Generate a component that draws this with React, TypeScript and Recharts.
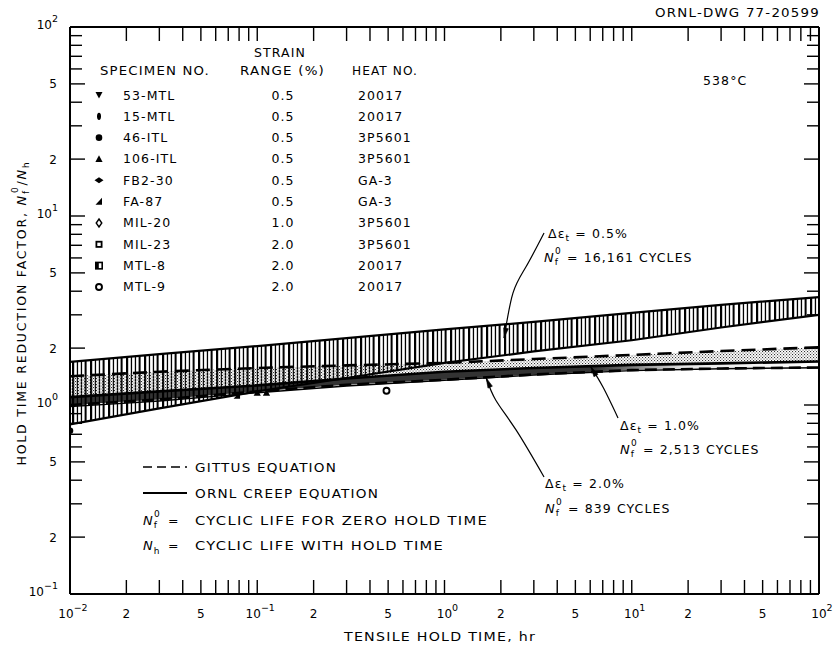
import React from 'react';
import { ComposedChart, XAxis, YAxis, Area, Line, Scatter } from 'recharts';

// ---------------- data ----------------
const holdTimes = [0.01, 0.03, 0.1, 0.3, 1, 3, 10, 30, 100];
// 0.5 % strain band (hatched)
const band05Upper = [1.69, 1.86, 2.05, 2.26, 2.51, 2.75, 3.07, 3.39, 3.72];
const band05Lower = [0.79, 0.96, 1.18, 1.39, 1.67, 1.92, 2.2, 2.57, 3.0];
// 1.0 % strain band (stippled)
const band10Upper = [1.42, 1.5, 1.57, 1.62, 1.67, 1.75, 1.84, 1.93, 2.02];
const band10Lower = [1.1, 1.18, 1.27, 1.38, 1.5, 1.57, 1.63, 1.66, 1.7];
// 2.0 % strain band (dark)
const band20Lower = [1.0, 1.07, 1.18, 1.28, 1.36, 1.45, 1.53, 1.56, 1.58];
const ornl20 = [0.98, 1.05, 1.16, 1.26, 1.35, 1.44, 1.52, 1.555, 1.575];

// visible data points
const pointTimes = [0.01, 0.078, 0.1, 0.112, 0.49];
const pointFactors = [0.73, 1.12, 1.16, 1.16, 1.19];
const pointKinds = ['46-ITL', 'FA-87', '106-ITL', '106-ITL', 'MTL-9'];

// annotation leader lines (data coordinates)
const arrow05Times = [3.4, 2.72, 2.32, 2.08];
const arrow05Factors = [8.13, 5.37, 3.91, 2.26];
const arrow10Times = [8.45, 7.03, 6.05];
const arrow10Factors = [0.853, 1.24, 1.59];
const arrow20Times = [3.4, 2.41, 1.88, 1.67];
const arrow20Factors = [0.416, 0.738, 1.06, 1.39];

// legend table
const specimens = ['53-MTL', '15-MTL', '46-ITL', '106-ITL', 'FB2-30', 'FA-87', 'MIL-20', 'MIL-23', 'MTL-8', 'MTL-9'];
const strainRanges = ['0.5', '0.5', '0.5', '0.5', '0.5', '0.5', '1.0', '2.0', '2.0', '2.0'];
const heatNos = ['20017', '20017', '3P5601', '3P5601', 'GA-3', 'GA-3', '3P5601', '3P5601', '20017', '20017'];

// ticks
const xLabelTicks = [0.01, 0.02, 0.05, 0.1, 0.2, 0.5, 1, 2, 5, 10, 20, 50, 100];
const yLabelTicks = [0.1, 0.2, 0.5, 1, 2, 5, 10, 20, 50, 100];
const mults = [1, 2, 3, 4, 5, 6, 7, 8, 9];
const xMinorTicks = [0.01, 0.1, 1, 10].flatMap((d) => mults.map((m) => +(d * m).toPrecision(3))).concat([100]);
const yMinorTicks = [0.1, 1, 10].flatMap((d) => mults.map((m) => +(d * m).toPrecision(3))).concat([100]);

const rows = holdTimes.map((x, i) => ({
  x,
  r05: [band05Lower[i], band05Upper[i]],
  r10: [band10Lower[i], band10Upper[i]],
  r20: [band20Lower[i], band10Lower[i]],
  u05: band05Upper[i],
  l05: band05Lower[i],
  g10: band10Upper[i],
  o10: band10Lower[i],
  g20: band20Lower[i],
  o20: ornl20[i],
}));
const pointRows = pointTimes.map((x, i) => ({ x, y: pointFactors[i], kind: pointKinds[i] }));
const toRows = (xs: number[], ys: number[]) => xs.map((x, i) => ({ x, y: ys[i] }));
const arrow05Rows = toRows(arrow05Times, arrow05Factors);
const arrow10Rows = toRows(arrow10Times, arrow10Factors);
const arrow20Rows = toRows(arrow20Times, arrow20Factors);

const FONT = '"DejaVu Sans", Verdana, sans-serif';
const TICK_W = 1.4;

// ---------------- helpers ----------------
function Marker({ kind, cx, cy }: { kind: string; cx: number; cy: number }) {
  switch (kind) {
    case '53-MTL':
      return <path d={`M${cx - 3.5},${cy - 3} L${cx + 3.5},${cy - 3} L${cx},${cy + 3.5} Z`} fill="#000" />;
    case '15-MTL':
      return <ellipse cx={cx} cy={cy} rx={2} ry={3.6} fill="#000" />;
    case '46-ITL':
      return <circle cx={cx} cy={cy} r={3.3} fill="#000" />;
    case '106-ITL':
      return <path d={`M${cx},${cy - 3.8} L${cx + 3.6},${cy + 3} L${cx - 3.6},${cy + 3} Z`} fill="#000" />;
    case 'FB2-30':
      return <path d={`M${cx - 4.5},${cy} L${cx},${cy - 3} L${cx + 4.5},${cy} L${cx},${cy + 3} Z`} fill="#000" />;
    case 'FA-87':
      return <path d={`M${cx + 3},${cy - 4} L${cx + 3},${cy + 3} L${cx - 3.5},${cy + 3} Z`} fill="#000" />;
    case 'MIL-20':
      return <path d={`M${cx},${cy - 4} L${cx + 2.8},${cy} L${cx},${cy + 4} L${cx - 2.8},${cy} Z`} fill="#fff" stroke="#000" strokeWidth={1.4} />;
    case 'MIL-23':
      return <rect x={cx - 2.6} y={cy - 2.6} width={5.2} height={5.2} fill="#fff" stroke="#000" strokeWidth={1.8} />;
    case 'MTL-8':
      return (
        <g>
          <rect x={cx - 3.2} y={cy - 3.2} width={6.4} height={6.4} fill="#fff" stroke="#000" strokeWidth={1.6} />
          <rect x={cx - 3.2} y={cy - 3.2} width={3} height={6.4} fill="#000" />
        </g>
      );
    case 'MTL-9':
      return <circle cx={cx} cy={cy} r={3} fill="#fff" stroke="#000" strokeWidth={1.9} />;
    default:
      return <circle cx={cx} cy={cy} r={3} fill="#000" />;
  }
}

const isIn = (v: number, arr: number[]) => arr.some((t) => Math.abs(t - v) / t < 1e-6);
const decompose = (v: number) => {
  const ex = Math.floor(Math.log10(v) + 1e-9);
  const m = Math.round(v / Math.pow(10, ex));
  return { ex, m };
};
const expText = (ex: number) => (ex < 0 ? '\u2212' + -ex : String(ex));

// bottom axis: inward tick marks + labels
const XTickBottom = (props: any) => {
  const { x, y, payload } = props;
  const v = payload.value;
  const { ex, m } = decompose(v);
  let label = null;
  if (isIn(v, xLabelTicks)) {
    label =
      m === 1 ? (
        <text x={x + 3} y={y + 24} textAnchor="middle" fontFamily={FONT} fontSize={12} fill="#000">
          <tspan>10</tspan>
          <tspan dy={-7} fontSize={9.5}>{expText(ex)}</tspan>
        </text>
      ) : (
        <text x={x} y={y + 24} textAnchor="middle" fontFamily={FONT} fontSize={12} fill="#000">
          {m}
        </text>
      );
  }
  return (
    <g>
      <line x1={x} y1={y} x2={x} y2={y - 14} stroke="#000" strokeWidth={TICK_W} />
      {label}
    </g>
  );
};

const XTickTop = (props: any) => {
  const { x, y } = props;
  return <line x1={x} y1={y} x2={x} y2={y + 14} stroke="#000" strokeWidth={TICK_W} />;
};

const YTickLeft = (props: any) => {
  const { x, y, payload } = props;
  const v = payload.value;
  const { ex, m } = decompose(v);
  let label = null;
  if (isIn(v, yLabelTicks)) {
    label =
      m === 1 ? (
        <text x={x - 12} y={y + 2} textAnchor="end" fontFamily={FONT} fontSize={12} fill="#000">
          <tspan>10</tspan>
          <tspan dy={-7} fontSize={9.5}>{expText(ex)}</tspan>
        </text>
      ) : (
        <text x={x - 13} y={y + 4.5} textAnchor="end" fontFamily={FONT} fontSize={12} fill="#000">
          {m}
        </text>
      );
  }
  const len = m === 1 || m === 2 || m === 5 ? 15 : 12;
  return (
    <g>
      <line x1={x} y1={y} x2={x + len} y2={y} stroke="#000" strokeWidth={TICK_W} />
      {label}
    </g>
  );
};

const YTickRight = (props: any) => {
  const { x, y, payload } = props;
  const { m } = decompose(payload.value);
  const len = m === 1 || m === 2 || m === 5 ? 15 : 12;
  return <line x1={x} y1={y} x2={x - len} y2={y} stroke="#000" strokeWidth={TICK_W} />;
};

const arrowDot = (count: number, fallbackAngle: number) => (props: any) => {
  const { cx, cy, index, points } = props;
  if (index !== count - 1) return <g key={`d${index}`} />;
  let ang = fallbackAngle;
  if (points && points.length > 1) {
    const p = points[points.length - 2];
    ang = Math.atan2(cy - p.y, cx - p.x);
  }
  const L = 10;
  const W = 2.4;
  const bx = cx - L * Math.cos(ang);
  const by = cy - L * Math.sin(ang);
  const nx = -Math.sin(ang) * W;
  const ny = Math.cos(ang) * W;
  return (
    <path
      key={`d${index}`}
      d={`M${cx},${cy} L${bx + nx},${by + ny} L${bx - nx},${by - ny} Z`}
      fill="#000"
      stroke="#000"
      strokeWidth={0.6}
    />
  );
};

const T = (p: any) => <text fontFamily={FONT} fontSize={12.5} fill="#000" letterSpacing={1.1} {...p} />;

const Nf0 = ({ x, y }: { x: number; y: number }) => (
  <>
    <tspan x={x} y={y} fontStyle="italic" fontSize={13}>N</tspan>
    <tspan dy={3} fontSize={9}>f</tspan>
    <tspan dx={-4} dy={-11} fontSize={9}>0</tspan>
    <tspan dy={8}> </tspan>
  </>
);

function Overlay() {
  const rowY = (i: number) => 95 + i * 21.33;
  return (
    <svg width={836} height={651} style={{ position: 'absolute', left: 0, top: 0, pointerEvents: 'none' }}>
      <T x={655} y={17} textLength={165} lengthAdjust="spacingAndGlyphs" fontSize={12}>ORNL-DWG 77-20599</T>
      <T x={280} y={57} textAnchor="middle">STRAIN</T>
      <T x={100} y={75} textLength={110} lengthAdjust="spacingAndGlyphs">SPECIMEN NO.</T>
      <T x={240} y={75} textLength={85} lengthAdjust="spacingAndGlyphs">RANGE (%)</T>
      <T x={352} y={75} textLength={66} lengthAdjust="spacingAndGlyphs">HEAT NO.</T>
      {specimens.map((s, i) => (
        <g key={s}>
          <Marker kind={s} cx={99} cy={rowY(i)} />
          <T x={123} y={rowY(i) + 4.5}>{s}</T>
          <T x={283} y={rowY(i) + 4.5} textAnchor="middle">{strainRanges[i]}</T>
          <T x={358} y={rowY(i) + 4.5}>{heatNos[i]}</T>
        </g>
      ))}
      <T x={703} y={85}>538°C</T>

      {/* annotations */}
      <T x={548} y={238}>
        <tspan>Δε</tspan>
        <tspan dy={3} fontSize={9}>t</tspan>
        <tspan dy={-3}> = 0.5%</tspan>
      </T>
      <T x={544} y={262}>
        <Nf0 x={544} y={262} />
        <tspan>= 16,161 CYCLES</tspan>
      </T>
      <T x={620} y={430}>
        <tspan>Δε</tspan>
        <tspan dy={3} fontSize={9}>t</tspan>
        <tspan dy={-3}> = 1.0%</tspan>
      </T>
      <T x={620} y={454}>
        <Nf0 x={620} y={454} />
        <tspan>= 2,513 CYCLES</tspan>
      </T>
      <T x={545} y={488}>
        <tspan>Δε</tspan>
        <tspan dy={3} fontSize={9}>t</tspan>
        <tspan dy={-3}> = 2.0%</tspan>
      </T>
      <T x={545} y={513}>
        <Nf0 x={545} y={513} />
        <tspan>= 839 CYCLES</tspan>
      </T>

      {/* line legend */}
      <line x1={143} y1={467} x2={187} y2={467} stroke="#000" strokeWidth={1.6} strokeDasharray="9 5" />
      <T x={195} y={472} textLength={142} lengthAdjust="spacingAndGlyphs">GITTUS EQUATION</T>
      <line x1={143} y1={493} x2={187} y2={493} stroke="#000" strokeWidth={1.8} />
      <T x={195} y={498} textLength={184} lengthAdjust="spacingAndGlyphs">ORNL CREEP EQUATION</T>
      <T x={143} y={525}>
        <Nf0 x={143} y={525} />
        <tspan x={168}>=</tspan>
        <tspan x={195} textLength={293} lengthAdjust="spacingAndGlyphs">CYCLIC LIFE FOR ZERO HOLD TIME</tspan>
      </T>
      <T x={143} y={550}>
        <tspan fontStyle="italic" fontSize={13}>N</tspan>
        <tspan dy={4} fontSize={9}>h</tspan>
        <tspan x={168} dy={-4}>=</tspan>
        <tspan x={195} textLength={249} lengthAdjust="spacingAndGlyphs">CYCLIC LIFE WITH HOLD TIME</tspan>
      </T>

      {/* axis titles */}
      <T x={440} y={641} textAnchor="middle" textLength={192} lengthAdjust="spacingAndGlyphs">TENSILE HOLD TIME, hr</T>
      <T x={0} y={0} transform="translate(26,313) rotate(-90)" textAnchor="middle" letterSpacing={1.8}>
        <tspan>HOLD TIME REDUCTION FACTOR, </tspan>
        <tspan fontStyle="italic" fontSize={13}>N</tspan>
        <tspan dy={3} fontSize={9}>f</tspan>
        <tspan dx={-4} dy={-11} fontSize={9}>0</tspan>
        <tspan dy={8}>/</tspan>
        <tspan fontStyle="italic" fontSize={13}>N</tspan>
        <tspan dy={3} fontSize={9}>h</tspan>
      </T>
    </svg>
  );
}

export default function App() {
  const axisBase = {
    type: 'number' as const,
    scale: 'log' as const,
    allowDataOverflow: true,
    interval: 0 as const,
    tickSize: 0,
    tickMargin: 0,
    tickLine: false,
  };
  return (
    <div style={{ position: 'absolute', left: 0, top: 0, width: 836, height: 651, background: '#fff' }}>
      <ComposedChart width={836} height={651} data={rows} margin={{ top: 26, right: 16, bottom: 17, left: 10 }}>
        <defs>
          <pattern id="hatch" patternUnits="userSpaceOnUse" width={18} height={10}>
            <rect width={18} height={10} fill="#fff" />
            <rect x={0} width={2.2} height={10} fill="#000" />
            <rect x={4.8} width={1.3} height={10} fill="#000" />
            <rect x={8.8} width={1.3} height={10} fill="#000" />
            <rect x={12.6} width={2.0} height={10} fill="#000" />
          </pattern>
          <pattern id="stipple" patternUnits="userSpaceOnUse" width={3} height={3}>
            <rect x={0} y={0} width={1.1} height={1.1} fill="#333" />
            <rect x={1.5} y={1.5} width={1.1} height={1.1} fill="#555" />
          </pattern>
          <linearGradient id="dark" x1="0" y1="0" x2="1" y2="0">
            <stop offset="0" stopColor="#000" stopOpacity={0.8} />
            <stop offset="0.7" stopColor="#000" stopOpacity={0.8} />
            <stop offset="0.82" stopColor="#000" stopOpacity={0.1} />
            <stop offset="1" stopColor="#000" stopOpacity={0} />
          </linearGradient>
        </defs>

        <XAxis
          {...axisBase}
          xAxisId="x"
          dataKey="x"
          domain={[0.01, 100]}
          ticks={xMinorTicks}
          height={40}
          axisLine={{ stroke: '#000', strokeWidth: 2 }}
          tick={<XTickBottom />}
        />
        <XAxis
          {...axisBase}
          xAxisId="xt"
          dataKey="x"
          orientation="top"
          height={1}
          domain={[0.01, 100]}
          ticks={xMinorTicks}
          axisLine={{ stroke: '#000', strokeWidth: 2 }}
          tick={<XTickTop />}
        />
        <YAxis
          {...axisBase}
          yAxisId="y"
          domain={[0.1, 100]}
          ticks={yMinorTicks}
          width={60}
          axisLine={{ stroke: '#000', strokeWidth: 2 }}
          tick={<YTickLeft />}
        />
        <YAxis
          {...axisBase}
          yAxisId="yr"
          orientation="right"
          width={1}
          domain={[0.1, 100]}
          ticks={yMinorTicks}
          axisLine={{ stroke: '#000', strokeWidth: 2 }}
          tick={<YTickRight />}
        />

        <Area xAxisId="x" yAxisId="y" dataKey="r05" type="linear" fill="url(#hatch)" fillOpacity={1} stroke="none" isAnimationActive={false} />
        <Area xAxisId="x" yAxisId="y" dataKey="r20" type="linear" fill="url(#dark)" fillOpacity={1} stroke="none" isAnimationActive={false} />
        <Area xAxisId="x" yAxisId="y" dataKey="r10" type="linear" fill="url(#stipple)" fillOpacity={1} stroke="none" isAnimationActive={false} />

        <Line xAxisId="x" yAxisId="y" dataKey="u05" type="linear" stroke="#000" strokeWidth={2.2} dot={false} isAnimationActive={false} />
        <Line xAxisId="x" yAxisId="y" dataKey="l05" type="linear" stroke="#000" strokeWidth={2.2} dot={false} isAnimationActive={false} />
        <Line xAxisId="x" yAxisId="y" dataKey="g10" type="linear" stroke="#000" strokeWidth={2.6} strokeDasharray="14 7" dot={false} isAnimationActive={false} />
        <Line xAxisId="x" yAxisId="y" dataKey="o10" type="linear" stroke="#000" strokeWidth={2.6} dot={false} isAnimationActive={false} />
        <Line xAxisId="x" yAxisId="y" dataKey="g20" type="linear" stroke="#000" strokeWidth={2.6} strokeDasharray="12 6" dot={false} isAnimationActive={false} />
        <Line xAxisId="x" yAxisId="y" dataKey="o20" type="linear" stroke="#000" strokeWidth={1.4} dot={false} isAnimationActive={false} />

        <Line xAxisId="x" yAxisId="y" data={arrow05Rows} dataKey="y" type="natural" stroke="#000" strokeWidth={1.2} dot={arrowDot(arrow05Rows.length, 1.8)} isAnimationActive={false} />
        <Line xAxisId="x" yAxisId="y" data={arrow10Rows} dataKey="y" type="natural" stroke="#000" strokeWidth={1.2} dot={arrowDot(arrow10Rows.length, -2.1)} isAnimationActive={false} />
        <Line xAxisId="x" yAxisId="y" data={arrow20Rows} dataKey="y" type="natural" stroke="#000" strokeWidth={1.2} dot={arrowDot(arrow20Rows.length, -1.9)} isAnimationActive={false} />

        <Scatter
          xAxisId="x"
          yAxisId="y"
          data={pointRows}
          dataKey="y"
          isAnimationActive={false}
          shape={(p: any) => <Marker kind={p.payload.kind} cx={p.cx} cy={p.cy} />}
        />
      </ComposedChart>
      <Overlay />
    </div>
  );
}
